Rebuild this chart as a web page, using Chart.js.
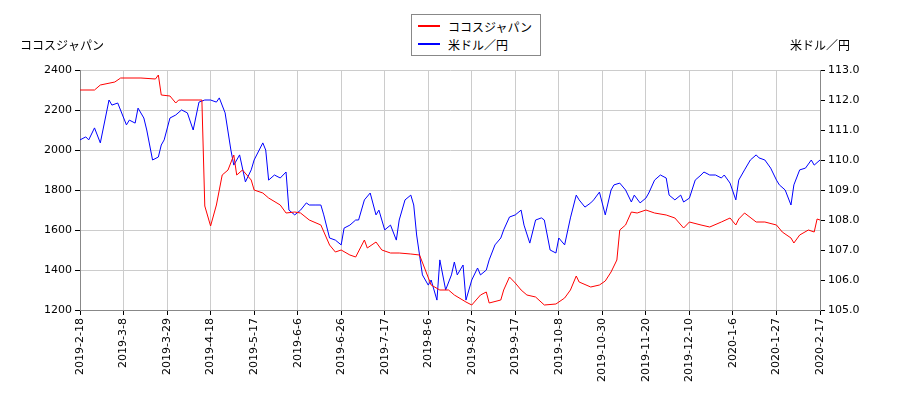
<!DOCTYPE html>
<html><head><meta charset="utf-8">
<script src="https://cdn.jsdelivr.net/npm/chart.js@4"></script>
<style>
body{margin:0;background:#fff;font-family:"Noto Sans CJK JP",sans-serif}
#wrap{position:relative;width:900px;height:400px}
#legend{position:absolute;left:411px;top:14px;width:130px;height:42px;border:1px solid #888;background:#fff;font-size:12px;color:#000;box-sizing:border-box;padding:2px 6px;white-space:nowrap}
#legend div{display:flex;align-items:center;height:18px}
#legend span{display:inline-block;width:22px;height:2px;margin-right:8px}
</style></head><body>
<div id="wrap"><canvas id="c" width="900" height="400"></canvas>
<div id="legend"><div><span style="background:#f00"></span>ココスジャパン</div><div><span style="background:#00f"></span>米ドル／円</div></div></div>
<script>
const tickLabels = ["2019-2-18","2019-3-8","2019-3-29","2019-4-18","2019-5-17","2019-6-6","2019-6-26","2019-7-17","2019-8-6","2019-8-27","2019-9-17","2019-10-8","2019-10-30","2019-11-20","2019-12-10","2020-1-6","2020-1-27","2020-2-17"];
// trading-day index, 15 per tick
const stockDays = [0,5,7,12,14,21,26,27,28,31,33,34,41,42,43,45,47,49,51,53,54,56,59,60,63,65,69,71,74,76,79,83,86,88,90,93,95,98,99,102,104,107,110,114,117,119,121,124,127,129,133,135,138,140,141,145,146,148,150,152,154,157,160,164,167,169,171,172,176,179,181,183,185,186,188,190,192,195,198,202,205,208,210,214,217,221,224,226,227,229,233,236,240,242,245,246,248,251,253,254,255];
const stockValues = [2300,2300,2325,2340,2360,2360,2355,2375,2275,2270,2235,2250,2250,2250,1720,1620,1725,1875,1900,1975,1875,1900,1850,1800,1785,1760,1725,1685,1690,1685,1650,1625,1525,1490,1500,1475,1465,1550,1510,1540,1500,1485,1485,1480,1475,1400,1325,1300,1300,1275,1240,1225,1275,1290,1235,1250,1300,1365,1335,1300,1275,1265,1225,1230,1260,1300,1370,1340,1315,1325,1345,1390,1450,1600,1625,1690,1685,1700,1685,1675,1660,1610,1640,1625,1615,1640,1660,1625,1655,1685,1640,1640,1625,1590,1560,1535,1575,1600,1590,1655,1650];
const fxDays = [0,2,3,5,7,10,11,13,16,17,19,20,22,23,25,27,28,29,31,33,35,37,39,41,43,45,47,48,50,52,53,55,57,59,60,63,64,65,67,69,71,72,74,76,78,79,81,83,84,86,88,90,91,93,95,96,98,100,102,103,105,107,109,110,112,114,115,116,118,120,121,123,124,126,128,129,130,132,133,135,137,138,140,141,143,145,146,148,150,152,153,155,157,159,160,162,164,165,167,169,171,172,174,176,177,179,181,183,184,186,188,190,191,193,195,196,198,200,202,203,205,207,208,210,212,214,215,217,219,221,222,224,226,227,229,231,233,234,236,238,240,241,243,245,246,248,250,252,253,255];
const fxValues = [110.67,110.77,110.67,111.07,110.57,112.0,111.83,111.9,111.17,111.33,111.23,111.73,111.4,111.0,110.0,110.1,110.5,110.67,111.4,111.5,111.67,111.57,111.0,111.93,112.0,112.0,111.93,112.07,111.57,110.33,109.83,110.17,109.27,109.67,110.0,110.57,110.33,109.33,109.5,109.4,109.6,108.33,108.17,108.33,108.57,108.5,108.5,108.5,108.17,107.4,107.33,107.17,107.73,107.83,108.0,108.0,108.67,108.9,108.17,108.33,107.67,107.83,107.33,108.0,108.67,108.83,108.5,107.5,106.17,105.83,106.0,105.33,106.67,105.67,106.17,106.6,106.17,106.5,105.33,106.0,106.4,106.17,106.33,106.67,107.17,107.4,107.67,108.1,108.17,108.33,107.83,107.23,108.0,108.07,108.0,107.0,106.9,107.4,107.17,108.07,108.83,108.67,108.43,108.57,108.67,108.93,108.17,109.0,109.17,109.23,109.0,108.6,108.83,108.57,108.73,108.9,109.33,109.5,109.4,108.83,108.67,108.83,108.6,108.73,109.33,109.5,109.6,109.5,109.5,109.4,109.5,109.23,108.67,109.33,109.67,110.0,110.17,110.07,110.0,109.73,109.33,109.17,109.0,108.5,109.17,109.67,109.73,110.0,109.83,110.0];

const toXY = (xs, ys) => xs.map((x, i) => ({ x, y: ys[i] }));
const font = { family: "'DejaVu Sans', sans-serif", size: 11 };

const axisTitles = {
  id: "axisTitles",
  afterDraw(chart) {
    const ctx = chart.ctx;
    ctx.save();
    ctx.font = "12px 'Noto Sans CJK JP', sans-serif";
    ctx.fillStyle = "#000";
    ctx.textBaseline = "middle";
    ctx.textAlign = "left";
    ctx.fillText("ココスジャパン", 20, 45);
    ctx.textAlign = "right";
    ctx.fillText("米ドル／円", 850, 45);
    ctx.restore();
  }
};

new Chart(document.getElementById("c"), {
  type: "line",
  data: {
    datasets: [
      { label: "ココスジャパン", data: toXY(stockDays, stockValues), borderColor: "#f00", borderWidth: 1, pointRadius: 0, yAxisID: "y", tension: 0 },
      { label: "米ドル／円", data: toXY(fxDays, fxValues), borderColor: "#00f", borderWidth: 1, pointRadius: 0, yAxisID: "y1", tension: 0 }
    ]
  },
  options: {
    responsive: false,
    animation: false,
    layout: { padding: { top: 70, left: 0, right: 0, bottom: 0 } },
    plugins: { legend: { display: false }, tooltip: { enabled: false } },
    scales: {
      x: {
        type: "linear", min: 0, max: 255,
        afterBuildTicks: (s) => { s.ticks = tickLabels.map((_, i) => ({ value: i * 15 })); },
        afterFit: (s) => { s.height = 90; },
        ticks: { autoSkip: false, maxRotation: 90, minRotation: 90, color: "#000", font,
          callback: (v) => tickLabels[Math.round(v / 15)] },
        grid: { color: "#ccc", tickLength: 5, tickColor: "#000" },
        border: { color: "#888" }
      },
      y: {
        position: "left", min: 1200, max: 2400,
        afterFit: (s) => { s.width = 80; },
        ticks: { stepSize: 200, color: "#000", font, callback: (v) => String(v) },
        grid: { color: "#ccc", tickLength: 5, tickColor: "#000" },
        border: { color: "#888" }
      },
      y1: {
        position: "right", min: 105, max: 113,
        afterFit: (s) => { s.width = 80; },
        ticks: { stepSize: 1, color: "#000", font, callback: (v) => v.toFixed(1) },
        grid: { drawOnChartArea: false, tickLength: 5, tickColor: "#000" },
        border: { color: "#888" }
      }
    }
  },
  plugins: [axisTitles]
});
</script></body></html>
